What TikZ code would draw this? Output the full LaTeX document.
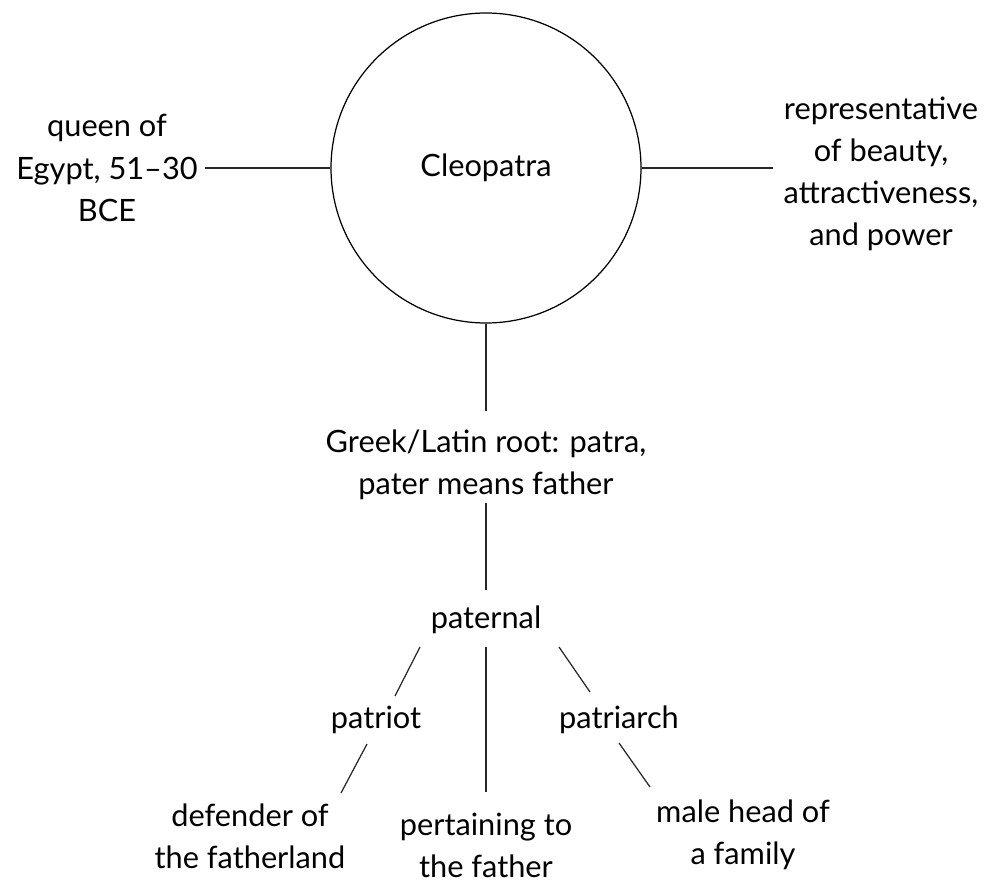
\documentclass[tikz,border=0pt]{standalone}
\usepackage{fontspec}
\setmainfont{Lato}
\usepackage{tikz}
\usetikzlibrary{positioning, calc}
\tikzset{>=latex}
\tikzset{lbl/.style={align=center, inner sep=0pt, font=\fontsize{17.5}{24}\selectfont},
  link/.style={line width=0.7pt, black!85}}

\begin{document}
\begin{tikzpicture}
  \useasboundingbox (0,0) rectangle (20.02,-17.64);
  \node[circle, draw, line width=0.7pt, minimum size=6.2cm, lbl, inner sep=0pt] (cleo) at (9.72,-3.36) {Cleopatra};
  \node[lbl] (queen) at (2.14,-3.36) {queen of\\Egypt, 51--30\\BCE};
  \node[lbl] (beauty) at (17.62,-3.48) {representative\\of beauty,\\attractiveness,\\and power};
  \node[lbl] (greek) at (9.72,-9.3) {Greek/Latin root: patra,\\pater means father};
  \node[lbl] (paternal) at (9.72,-12.4) {paternal};
  \node[lbl] (patriot) at (7.52,-14.4) {patriot};
  \node[lbl] (patriarch) at (12.38,-14.4) {patriarch};
  \node[lbl] (defender) at (5.0,-16.72) {defender of\\the fatherland};
  \node[lbl] (pertaining) at (9.72,-16.9) {pertaining to\\the father};
  \node[lbl] (male) at (14.86,-16.7) {male head of\\a family};

  \draw[link] (cleo.west) -- ([xshift=0.14cm]queen.east |- cleo.west);
  \draw[link] (cleo.east) -- ([xshift=-0.2cm]beauty.west |- cleo.east);
  \draw[link] (cleo.south) -- ([yshift=1.08cm]greek.center);
  \draw[link] ([yshift=-0.76cm]greek.center) -- ([yshift=0.6cm]paternal.center);
  \draw[link] ([shift={(-1.32,-0.54)}]paternal.center) -- ([shift={(0.38,0.48)}]patriot.center);
  \draw[link] ([yshift=-0.54cm]paternal.center) -- ([yshift=1.06cm]pertaining.center);
  \draw[link] ([shift={(1.46,-0.54)}]paternal.center) -- ([shift={(-0.58,0.56)}]patriarch.center);
  \draw[link] ([shift={(-0.18,-0.48)}]patriot.center) -- ([shift={(1.82,0.86)}]defender.center);
  \draw[link] ([shift={(0,-0.46)}]patriarch.center) -- ([shift={(-1.86,0.96)}]male.center);
\end{tikzpicture}
\end{document}
